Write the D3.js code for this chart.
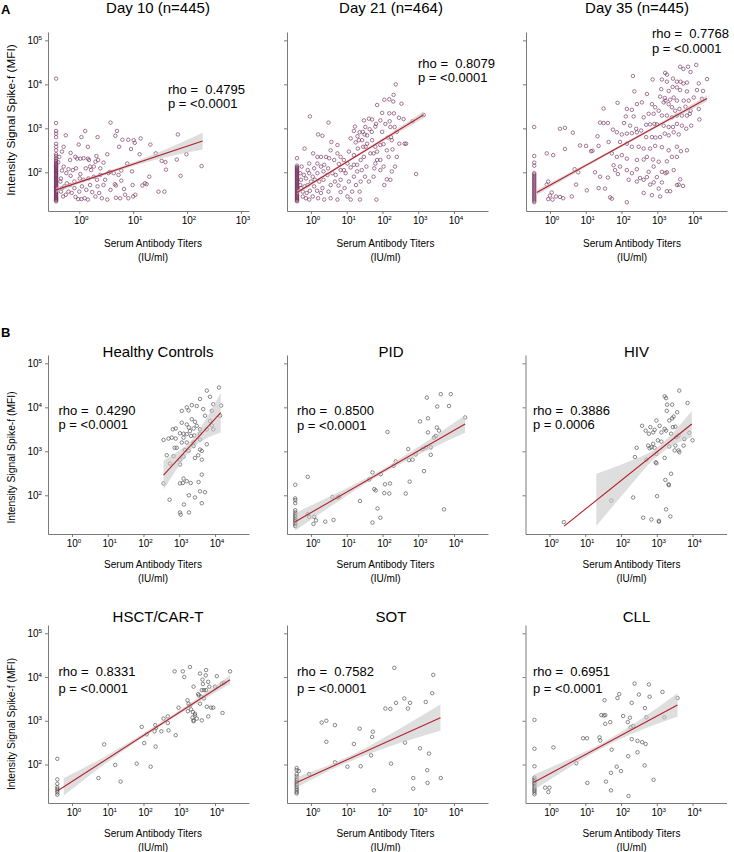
<!DOCTYPE html>
<html><head><meta charset="utf-8">
<script src="https://cdn.jsdelivr.net/npm/d3@7"></script>
<style>
body{margin:0;background:#fff}
svg{display:block}
text{font-family:"Liberation Sans",Arial,Helvetica,sans-serif;fill:#000}
</style>
</head><body>
<svg id="chart" width="734" height="852"></svg>
<script>
// ---------- DATA (log10 units: titer IU/ml, MFI) ----------
const panelTitles = ["Day 10 (n=445)","Day 21 (n=464)","Day 35 (n=445)","Healthy Controls","PID","HIV","HSCT/CAR-T","SOT","CLL"];
const rhoValues = ["0.4795","0.8079","0.7768","0.4290","0.8500","0.3886","0.8331","0.7582","0.6951"];
const pValues = ["<0.0001","<0.0001","<0.0001","<0.0001","<0.0001","0.0006","<0.0001","<0.0001","<0.0001"];
const xTickExpA1 = [0,1,2,3];
const xTickExp = [0,1,2,3,4];
const yTickExp = [2,3,4,5];

// lower-limit titer columns
const lowerLimitTiter = [-0.43,-0.39,-0.44,null,-0.44,null,-0.41,-0.40,-0.42];
const day10LowerMFI = [4.13,3.12,2.94,2.88,2.80,2.65,2.58,2.50,2.41,2.37,2.32,2.28,2.25,2.22,2.19,2.17,2.15,2.13,2.11,2.09,2.07,2.05,2.03,2.02,2.00,1.98,1.96,1.94,1.92,1.90,1.88,1.86,1.85,1.83,1.81,1.79,1.77,1.75,1.73,1.71,1.69,1.68,1.66,1.64,1.62,1.60,1.58,1.56,1.55,1.53,1.51,1.49,1.47,1.45,1.43,1.41,1.40,1.38,1.36,1.34];
const day21LowerMFI = [2.32,2.15,2.12,2.10,2.08,2.06,2.04,2.02,2.00,1.98,1.96,1.94,1.92,1.90,1.88,1.86,1.84,1.82,1.80,1.78,1.76,1.74,1.72,1.70,1.68,1.66,1.64,1.62,1.60,1.58,1.56,1.54,1.52,1.50,1.48,1.46,1.44,1.42,1.40,1.38,1.36,1.34];
const day35LowerMFI = [3.03,2.37,2.22,2.15,1.98,1.95,1.92,1.89,1.86,1.83,1.80,1.77,1.74,1.71,1.68,1.65,1.62,1.59,1.56,1.53,1.50,1.47,1.44,1.41,1.38,1.35,1.32];
const pidLowerMFI = [2.24,1.93,1.89,1.82,1.66,1.61,1.57,1.53,1.49,1.45,1.42,1.38,1.34,1.30];
const hsctLowerMFI = [2.13,1.66,1.56,1.48,1.44,1.40,1.36,1.31];
const sotLowerMFI = [1.92,1.87,1.78,1.73,1.68,1.64,1.60,1.56,1.53,1.49,1.45,1.41,1.37,1.34];
const cllLowerMFI = [3.02,2.36,1.96,1.70,1.66,1.62,1.58,1.55,1.51,1.47,1.43,1.40,1.36,1.32];

const day10Points = [[0.58,3.13],[0.70,2.94],[0.11,2.94],[-0.25,2.84],[0.04,2.80],[0.34,2.80],[1.14,2.77],[0.91,2.74],[1.01,2.73],[1.03,2.67],[1.83,2.86],[0.67,2.83],[0.80,2.74],[-0.01,2.63],[0.16,2.58],[1.32,2.63],[0.74,2.58],[0.96,2.53],[-0.16,2.44],[0.52,2.41],[0.32,2.37],[1.12,2.41],[0.08,2.32],[0.02,2.31],[-0.04,2.31],[0.16,2.31],[0.18,2.28],[0.30,2.24],[0.35,2.28],[0.45,2.22],[1.42,2.43],[1.60,2.23],[1.61,2.06],[1.99,2.41],[0.89,2.20],[2.27,2.14],[-0.29,2.13],[-0.20,2.07],[-0.12,2.05],[-0.06,2.09],[0.12,2.09],[0.22,2.05],[0.27,2.13],[0.57,2.01],[0.78,2.04],[0.98,2.02],[1.30,1.90],[1.25,1.73],[1.17,1.70],[0.99,1.71],[0.83,1.62],[0.66,1.73],[0.68,1.70],[0.54,1.98],[0.39,1.94],[0.27,1.90],[0.17,1.86],[0.08,1.83],[0.01,1.86],[-0.09,1.79],[-0.17,1.71],[-0.23,1.75],[-0.28,1.68],[-0.32,1.64],[-0.34,1.56],[-0.30,1.45],[-0.25,1.49],[-0.20,1.56],[-0.14,1.53],[-0.07,1.44],[-0.02,1.39],[0.04,1.39],[0.10,1.41],[0.16,1.38],[0.24,1.55],[0.30,1.45],[0.37,1.53],[0.42,1.41],[0.52,1.38],[0.68,1.42],[0.76,1.41],[0.91,1.41],[1.00,1.45],[1.22,1.75],[1.47,1.56],[1.58,1.56],[1.88,1.92],[1.81,2.29],[1.53,2.26],[0.45,1.71],[0.58,1.60],[0.34,1.68],[0.05,1.68],[0.20,1.71],[0.13,1.60],[0.00,1.56],[-0.16,1.92],[-0.24,1.98],[-0.34,1.86],[-0.32,2.04],[-0.35,1.79],[0.02,1.96],[-0.09,1.64],[0.33,1.83],[0.48,1.83],[0.78,1.81],[1.04,1.49],[0.85,1.49],[0.64,1.98],[0.73,1.94],[0.20,2.13],[0.39,2.09],[-0.17,2.28],[-0.07,2.35],[-0.39,2.23],[-0.37,2.35],[-0.32,2.47],[-0.29,2.58]];

const day21Points = [[2.37,4.00],[2.31,3.76],[2.05,3.65],[2.19,3.66],[2.30,3.61],[2.53,3.56],[1.85,3.53],[1.99,3.35],[2.19,3.34],[2.32,3.34],[2.46,3.24],[2.59,3.21],[2.84,3.16],[3.15,3.30],[-0.03,3.27],[0.49,3.13],[0.20,2.86],[0.32,2.83],[-0.18,2.54],[0.06,2.43],[0.74,2.62],[0.57,2.69],[1.11,2.77],[1.23,3.04],[1.48,3.18],[1.62,3.22],[1.71,3.20],[1.82,3.10],[1.52,3.03],[1.64,2.98],[1.20,2.94],[1.36,2.91],[1.50,2.86],[1.30,2.82],[1.25,2.68],[1.34,2.73],[1.46,2.58],[1.57,2.65],[1.71,2.73],[1.80,2.58],[1.85,2.47],[1.94,2.62],[2.03,2.64],[2.15,2.79],[2.26,2.73],[2.22,3.03],[1.99,2.92],[2.20,3.16],[2.34,3.03],[2.40,2.92],[2.12,2.50],[2.28,2.52],[2.17,2.35],[1.94,2.28],[1.80,2.20],[1.77,2.09],[1.66,2.43],[1.48,2.35],[1.39,2.28],[1.29,2.17],[1.11,2.11],[1.02,2.20],[0.92,2.28],[0.78,2.19],[0.65,2.28],[0.51,2.32],[0.42,2.35],[0.37,2.17],[0.28,2.13],[0.18,2.20],[0.09,2.09],[-0.05,1.98],[-0.05,2.20],[0.05,1.90],[0.00,1.79],[-0.09,1.71],[-0.18,1.68],[-0.28,1.64],[-0.23,1.56],[-0.12,1.53],[-0.03,1.58],[0.09,1.68],[0.23,1.79],[0.35,1.83],[0.46,1.94],[0.60,1.98],[0.67,1.79],[0.77,1.70],[0.83,1.83],[0.97,1.98],[1.06,1.79],[1.20,1.90],[1.26,1.71],[1.36,1.56],[1.15,1.56],[1.02,1.45],[0.74,1.38],[0.55,1.41],[0.37,1.38],[0.20,1.41],[0.05,1.45],[0.49,1.56],[0.32,1.64],[0.28,1.53],[0.17,1.58],[0.83,1.55],[0.55,1.71],[0.94,1.64],[1.11,1.38],[1.37,1.38],[1.83,1.38],[1.62,1.79],[1.75,1.90],[1.94,2.05],[2.03,2.13],[2.12,1.84],[2.22,1.83],[2.05,1.71],[2.26,2.02],[2.35,2.13],[2.40,2.35],[2.47,2.65],[2.62,2.65],[2.66,2.65],[2.24,2.80],[2.08,3.10],[1.94,3.18],[1.80,3.04],[1.70,2.92],[1.57,2.84],[1.43,2.73],[1.31,2.54],[1.20,2.39],[1.06,2.47],[0.83,2.35],[0.74,2.43],[0.55,2.50],[0.28,2.35],[0.18,2.35],[2.94,1.96],[1.45,2.92],[1.53,2.58],[1.75,2.43],[1.85,2.28],[1.55,2.13],[1.29,2.02],[1.42,2.05],[1.51,1.90],[1.39,1.79],[1.20,2.17],[0.92,2.05],[0.83,2.05],[0.69,1.94],[0.48,2.09],[0.35,2.02],[0.18,1.98],[0.11,1.83],[-0.14,1.86],[-0.20,1.94],[-0.09,2.05],[-0.28,1.83],[-0.30,1.71],[-0.23,1.45],[-0.14,1.41],[-0.05,1.38],[-0.30,1.98],[-0.26,2.13]];

const day35Points = [[4.09,4.44],[3.86,4.40],[3.64,4.40],[3.73,4.35],[3.93,4.28],[3.22,4.26],[3.27,4.22],[2.32,4.19],[2.87,4.11],[3.13,4.11],[3.44,4.13],[3.27,4.06],[3.55,4.06],[3.65,4.06],[3.73,4.02],[3.83,4.04],[4.16,4.02],[4.39,4.12],[2.36,3.84],[3.11,3.89],[3.32,3.85],[3.43,3.94],[3.55,3.93],[3.64,3.87],[3.83,3.84],[4.11,3.87],[4.28,3.85],[2.71,3.78],[3.08,3.72],[3.21,3.69],[3.23,3.63],[3.36,3.65],[3.46,3.70],[3.55,3.63],[3.74,3.63],[3.88,3.63],[4.02,3.70],[4.25,3.67],[1.89,3.58],[2.57,3.59],[2.43,3.55],[2.85,3.55],[2.94,3.48],[3.04,3.40],[3.18,3.59],[3.32,3.55],[3.41,3.48],[3.50,3.40],[3.62,3.44],[3.79,3.49],[3.93,3.40],[4.16,3.44],[1.50,3.45],[2.15,3.44],[2.29,3.42],[2.12,3.27],[2.34,3.27],[2.62,3.25],[2.76,3.33],[2.90,3.33],[3.13,3.29],[3.27,3.29],[3.41,3.25],[3.55,3.29],[3.69,3.29],[3.83,3.29],[3.91,3.33],[1.40,3.13],[1.50,3.12],[1.62,3.12],[2.07,3.12],[2.24,3.06],[2.41,2.99],[2.69,3.08],[2.80,3.09],[2.92,3.10],[2.99,3.09],[3.18,3.06],[3.32,3.03],[3.44,3.03],[3.55,3.10],[3.69,3.06],[3.81,2.99],[3.95,3.06],[4.18,3.20],[0.28,2.99],[0.42,3.01],[0.64,2.90],[1.33,2.82],[1.76,2.97],[1.87,2.91],[2.01,2.86],[2.15,2.88],[2.29,2.89],[2.43,2.91],[2.55,2.95],[2.69,2.80],[2.85,2.80],[2.95,2.79],[3.08,2.80],[3.21,2.88],[3.32,2.84],[3.46,2.91],[3.60,2.86],[0.84,2.61],[1.01,2.60],[1.15,2.48],[1.36,2.60],[1.64,2.69],[1.96,2.69],[2.15,2.65],[2.29,2.58],[2.48,2.58],[2.62,2.54],[2.80,2.54],[2.94,2.60],[3.13,2.57],[3.32,2.50],[3.55,2.58],[3.83,2.50],[0.42,2.53],[-0.09,2.43],[0.09,2.39],[1.19,2.49],[1.73,2.43],[1.87,2.35],[2.01,2.39],[2.15,2.31],[2.43,2.28],[2.62,2.29],[2.71,2.35],[2.88,2.29],[3.04,2.24],[3.27,2.25],[3.41,2.35],[3.55,2.35],[3.66,2.48],[1.78,2.16],[1.96,2.13],[2.15,2.05],[2.29,1.98],[2.43,2.07],[2.76,2.01],[2.90,2.13],[3.13,2.01],[3.27,2.00],[3.46,2.05],[0.69,2.07],[0.79,2.00],[1.26,2.00],[1.82,2.05],[1.40,1.90],[1.62,1.88],[1.90,1.96],[2.20,1.83],[2.43,1.79],[2.62,1.83],[2.99,1.89],[3.23,1.98],[3.64,1.84],[3.55,1.71],[-0.05,1.79],[-0.09,1.72],[0.05,1.54],[0.00,1.47],[-0.05,1.39],[0.07,1.38],[0.17,1.45],[0.28,1.44],[0.37,1.41],[0.61,1.45],[0.73,1.72],[1.03,1.59],[1.36,1.64],[1.54,1.63],[1.68,1.43],[1.73,1.40],[2.15,1.32],[2.62,1.53],[2.80,1.72],[2.85,1.48],[3.04,1.63],[3.08,1.45],[3.27,1.57],[3.36,1.57],[3.60,1.72],[3.72,1.69],[3.13,1.77],[2.90,1.77],[2.52,1.87],[2.71,1.89]];

const healthyPoints = [[4.11,4.45],[3.77,4.38],[3.86,4.24],[3.58,4.19],[3.35,4.05],[3.49,4.03],[3.95,4.07],[3.21,4.00],[3.26,3.93],[3.07,3.92],[3.67,3.96],[4.17,4.04],[3.91,3.92],[3.72,3.81],[3.86,3.69],[3.35,3.73],[3.44,3.67],[3.21,3.61],[3.07,3.65],[3.49,3.58],[3.58,3.50],[3.77,3.50],[3.91,3.59],[3.27,3.54],[3.40,3.52],[3.30,3.46],[3.21,3.39],[3.12,3.40],[3.02,3.41],[2.90,3.52],[2.82,3.50],[3.58,3.40],[3.95,3.50],[4.14,3.81],[3.33,3.35],[3.42,3.36],[3.12,3.31],[2.90,3.29],[2.79,3.31],[2.70,3.29],[2.56,3.26],[3.07,3.20],[3.21,3.20],[3.40,3.20],[3.58,3.27],[3.77,3.16],[3.16,3.03],[3.40,3.12],[2.93,3.08],[2.87,3.08],[3.58,3.04],[2.84,2.89],[3.02,2.81],[3.12,2.88],[3.26,3.01],[3.53,2.91],[3.63,3.01],[2.56,2.27],[2.65,2.91],[2.74,2.72],[3.02,2.70],[3.10,2.28],[3.21,2.32],[3.32,2.28],[3.12,2.38],[3.02,2.27],[3.27,2.00],[3.44,1.95],[3.54,2.30],[3.58,2.09],[3.72,2.07],[3.63,1.82],[2.73,1.90],[3.13,1.79],[3.02,1.61],[3.04,1.56],[3.27,1.61],[3.63,2.47],[3.63,2.81],[3.44,2.85]];

const pidPoints = [[3.63,4.30],[3.91,4.30],[3.24,4.22],[3.86,4.03],[3.53,4.02],[4.31,3.77],[3.05,3.68],[3.27,3.75],[2.14,3.44],[3.52,3.54],[3.58,3.47],[3.27,3.43],[3.44,3.31],[3.49,3.35],[2.72,3.05],[3.12,3.05],[3.21,3.09],[3.35,3.09],[3.35,2.92],[2.93,2.93],[2.74,2.80],[2.84,2.81],[2.37,2.77],[2.31,2.67],[3.16,2.55],[1.72,2.52],[1.95,2.48],[1.63,2.36],[-0.09,2.42],[2.76,2.31],[2.07,2.25],[2.21,2.27],[1.77,2.14],[1.81,2.11],[2.05,2.05],[2.19,2.04],[2.65,2.04],[0.60,1.96],[0.79,1.97],[0.75,1.95],[1.37,1.87],[1.86,1.70],[-0.09,1.57],[-0.05,1.51],[0.09,1.51],[0.14,1.43],[0.07,1.35],[0.40,1.40],[0.63,1.44],[1.72,1.38],[1.94,1.49],[3.72,1.68]];

const hivPoints = [[3.63,4.38],[3.22,4.25],[3.26,4.21],[3.86,4.10],[3.29,4.06],[3.43,4.06],[3.28,3.92],[3.57,3.89],[3.47,3.79],[3.43,3.75],[3.35,3.70],[2.59,3.58],[2.99,3.70],[2.82,3.55],[2.94,3.49],[3.08,3.58],[3.22,3.51],[3.45,3.55],[3.52,3.56],[2.69,3.47],[2.78,3.40],[2.90,3.43],[3.13,3.43],[3.26,3.47],[3.40,3.40],[3.54,3.32],[3.91,3.42],[3.77,3.28],[4.00,3.25],[3.61,3.36],[3.03,3.25],[3.13,3.22],[2.90,3.17],[2.76,3.13],[2.80,3.07],[2.85,3.09],[2.44,3.08],[2.94,3.08],[3.35,3.11],[3.52,3.13],[3.61,3.02],[3.75,3.13],[3.63,2.98],[3.50,3.02],[2.99,2.94],[2.39,2.87],[2.71,2.81],[2.97,2.75],[2.99,2.73],[3.22,2.85],[3.40,2.49],[3.24,2.35],[3.33,2.25],[3.34,2.23],[3.01,1.98],[2.34,1.95],[1.73,1.88],[3.26,1.68],[2.62,1.49],[2.85,1.45],[3.06,1.42],[3.06,1.40],[3.38,1.52],[0.40,1.39]];

const hsctPoints = [[3.30,4.23],[2.87,4.13],[3.10,4.13],[3.14,4.00],[3.58,4.08],[3.75,4.16],[3.74,4.04],[4.42,4.13],[4.05,4.02],[3.81,3.89],[3.40,3.78],[3.65,3.94],[3.66,3.84],[3.63,3.70],[3.61,3.55],[3.69,3.70],[3.75,3.70],[3.84,3.78],[4.00,3.78],[4.19,3.85],[4.25,3.87],[3.53,3.61],[3.58,3.39],[3.55,3.58],[3.69,3.51],[3.23,3.47],[3.26,3.39],[3.30,3.35],[3.24,3.22],[3.44,3.16],[3.38,3.20],[3.33,3.26],[2.98,3.30],[2.68,3.10],[3.44,3.12],[3.77,3.32],[3.81,3.10],[3.89,3.30],[3.95,3.30],[4.21,3.18],[3.63,3.01],[3.40,3.01],[3.49,3.05],[3.37,3.07],[3.40,2.99],[2.56,3.05],[2.68,2.95],[2.33,2.90],[2.31,2.76],[2.09,2.69],[2.50,2.76],[2.70,2.78],[1.95,2.86],[2.35,2.84],[2.02,2.49],[2.34,2.41],[2.90,2.67],[0.90,2.46],[1.21,1.99],[1.81,2.02],[2.20,1.95],[0.74,1.69],[1.36,1.61]];

const sotPoints = [[2.33,4.21],[3.42,4.05],[3.39,3.63],[3.21,3.43],[2.61,3.51],[2.77,3.41],[2.38,3.41],[2.08,3.28],[2.22,3.27],[2.71,3.28],[0.43,3.00],[0.30,2.96],[0.67,2.90],[1.36,2.82],[1.73,2.75],[1.71,2.63],[0.43,2.52],[1.20,2.47],[2.63,2.50],[3.05,2.37],[3.30,2.25],[1.68,2.21],[0.67,2.05],[1.02,1.95],[1.39,1.96],[2.24,2.02],[3.25,1.87],[-0.05,1.78],[2.86,1.69],[3.26,1.58],[3.63,1.69],[2.86,1.45],[1.76,1.41],[-0.34,1.85]];

const cllPoints = [[2.38,3.85],[2.78,3.83],[3.16,3.66],[1.95,3.61],[2.50,3.60],[2.80,3.55],[3.58,3.52],[1.54,3.47],[1.90,3.52],[2.30,3.41],[2.67,3.29],[1.45,3.13],[1.52,3.12],[1.56,3.13],[2.06,3.11],[2.25,3.07],[2.71,3.08],[3.21,3.08],[1.70,2.97],[1.56,2.93],[2.19,2.97],[2.27,2.85],[2.34,2.88],[0.94,2.60],[1.05,2.60],[1.40,2.62],[1.42,2.55],[2.30,2.58],[2.46,2.54],[2.59,2.51],[2.69,2.47],[0.11,2.39],[1.74,2.34],[2.20,2.19],[2.46,2.28],[0.75,2.03],[1.88,1.95],[2.00,1.85],[2.66,1.98],[1.72,1.81],[2.91,1.65],[1.06,1.58],[1.58,1.61],[1.72,1.41],[2.21,1.28],[-0.12,1.47],[-0.03,1.37],[0.00,1.47]];

// fitted regression lines [x0, y0, x1, y1] and confidence bands [x, lower, upper]
const fitLines = [
  [-0.43,1.60,2.29,2.71],[-0.39,1.54,3.15,3.31],[-0.37,1.54,4.39,3.68],
  [2.56,2.46,4.16,3.88],[-0.44,1.40,4.31,3.62],[0.41,1.30,3.98,3.62],
  [-0.40,1.40,4.42,3.94],[-0.40,1.59,3.62,3.07],[-0.42,1.60,3.58,3.36]
];
const fitBands = [
  [[-0.43,1.54,1.66],[0.3,1.87,1.93],[1.0,2.14,2.23],[1.6,2.34,2.52],[2.29,2.52,2.90]],
  [[-0.39,1.49,1.59],[1.0,2.21,2.26],[2.0,2.695,2.775],[3.15,3.23,3.39]],
  [[-0.37,1.48,1.60],[1.5,2.35,2.41],[3.0,3.025,3.085],[4.39,3.61,3.75]],
  [[2.56,2.13,2.79],[3.0,2.68,3.02],[3.35,3.06,3.26],[3.7,3.27,3.67],[4.16,3.43,4.33]],
  [[-0.44,1.20,1.60],[0.5,1.72,1.96],[1.8,2.40,2.50],[3.0,2.92,3.10],[4.31,3.42,3.82]],
  [[1.31,1.30,2.49],[2.2,2.16,2.76],[3.0,2.88,3.08],[3.5,3.16,3.46],[3.98,3.32,3.92]],
  [[-0.23,1.29,1.69],[1.0,2.06,2.22],[2.5,2.89,2.97],[3.5,3.40,3.51],[4.42,3.84,4.04]],
  [[-0.40,1.47,1.71],[0.8,1.97,2.09],[1.8,2.30,2.50],[2.8,2.57,2.97],[3.62,2.77,3.37]],
  [[-0.42,1.43,1.77],[0.5,1.905,2.105],[1.5,2.385,2.505],[2.5,2.765,3.005],[3.58,3.09,3.63]]
];

const pointSets = [day10Points,day21Points,day35Points,healthyPoints,pidPoints,hivPoints,hsctPoints,sotPoints,cllPoints];
const lowerSets = [day10LowerMFI,day21LowerMFI,day35LowerMFI,[],pidLowerMFI,[],hsctLowerMFI,sotLowerMFI,cllLowerMFI];

// ---------- LAYOUT ----------
const colLeft = [48,287,526];
const rowTop = [32,355,625];
const rowH = [179,179,178];
const plotW = 201;
const titleDX = [110,104,111];
const titleY = [13,357,621.5];
const ann = [ // [x offset from left, baseline rho, baseline p]
  [120,93.5,108],[131,67.5,82],[126,37.5,52.5],
  [10.5,414.5,429],[10,414.5,429.5],[7.5,414.5,429],
  [10.5,676,692.5],[10,676,692.5],[7.5,676,692.5]
];
const xTitleDX = [105,98.5,106];
const xTitleY = [247,568,837];
const yTitleCenter = [120,457.5,724];

const svg = d3.select("#chart");
const AXIS = "#6b6b6b";

function sup(sel, exp) {
  sel.append("tspan").text("10");
  sel.append("tspan").attr("font-size",6.2).attr("dy",-4).text(exp);
}

for (let i = 0; i < 9; i++) {
  const r = Math.floor(i/3), c = i % 3;
  const left = colLeft[c] - (r>0 && c===2 ? 0.5 : 0);
  const top = rowTop[r], h = rowH[r];
  const xd = i === 0 ? [-0.58,3.15] : [-0.67,4.95];
  const yd = [1.12,5.19];
  const x = d3.scaleLog().domain([10**xd[0],10**xd[1]]).range([left,left+plotW]);
  const y = d3.scaleLog().domain([10**yd[0],10**yd[1]]).range([top+h,top]);
  const g = svg.append("g");
  const color = r === 0 ? "#74305c" : "#4a4a4a";

  // axes
  const xt = (i===0 ? xTickExpA1 : xTickExp);
  const xa = g.append("g").attr("transform",`translate(0,${top+h})`)
    .call(d3.axisBottom(x).tickValues(xt.map(k=>10**k)).tickSize(3).tickSizeOuter(0).tickFormat(""));
  const ya = g.append("g").attr("transform",`translate(${left},0)`)
    .call(d3.axisLeft(y).tickValues(yTickExp.map(k=>10**k)).tickSize(3).tickSizeOuter(0).tickFormat(""));
  [xa,ya].forEach(a=>{a.selectAll("path,line").attr("stroke",AXIS).attr("stroke-width",0.9);});

  xt.forEach(k=>{
    const t = g.append("text").attr("x",x(10**k)+2).attr("y",top+h+13).attr("text-anchor","middle").attr("font-size",10);
    sup(t,k);
  });
  if (c === 0) {
    yTickExp.forEach(k=>{
      const t = g.append("text").attr("x",left-6).attr("y",y(10**k)+3.5).attr("text-anchor","end").attr("font-size",10);
      sup(t,k);
    });
  }

  // points
  const pts = pointSets[i].slice();
  lowerSets[i].forEach(v=>pts.push([lowerLimitTiter[i],v]));
  g.append("g").selectAll("circle").data(pts).join("circle")
    .attr("cx",d=>x(10**d[0])).attr("cy",d=>y(10**d[1])).attr("r",1.75)
    .attr("fill","none").attr("stroke",color).attr("stroke-width",0.65);

  // band
  const area = d3.area().x(d=>x(10**d[0])).y0(d=>y(10**d[1])).y1(d=>y(10**d[2])).curve(d3.curveMonotoneX);
  g.append("path").attr("d",area(fitBands[i])).attr("fill","#c8c8c8").attr("opacity",0.6);
  const fl = fitLines[i];
  g.append("path").attr("d",d3.line().x(d=>x(10**d[0])).y(d=>y(10**d[1]))([[fl[0],fl[1]],[fl[2],fl[3]]]))
    .attr("stroke","#b5202a").attr("stroke-width",1.1).attr("fill","none");

  // title
  g.append("text").attr("x",left+titleDX[c]).attr("y",titleY[r]).attr("text-anchor","middle")
    .attr("font-size",15).text(panelTitles[i]);
  // annotation
  g.append("text").attr("x",left+ann[i][0]).attr("y",ann[i][1]).attr("font-size",13)
    .style("white-space","pre").text("rho =  " + rhoValues[i]);
  g.append("text").attr("x",left+ann[i][0]).attr("y",ann[i][2]).attr("font-size",13)
    .style("white-space","pre").text("p = " + pValues[i]);
  // axis titles
  g.append("text").attr("x",left+xTitleDX[c]).attr("y",xTitleY[r]).attr("text-anchor","middle")
    .attr("font-size",10).text("Serum Antibody Titers");
  g.append("text").attr("x",left+xTitleDX[c]).attr("y",xTitleY[r]+14).attr("text-anchor","middle")
    .attr("font-size",10).text("(IU/ml)");
  if (c === 0) {
    const fs = r === 0 ? 11.8 : 10.3;
    g.append("text").attr("transform",`translate(14.5,${yTitleCenter[r]}) rotate(-90)`)
      .attr("text-anchor","middle").attr("font-size",fs).text("Intensity Signal Spike-f (MFI)");
  }
}

svg.append("text").attr("x",1).attr("y",13.5).attr("font-size",13).attr("font-weight","bold").text("A");
svg.append("text").attr("x",1).attr("y",336.5).attr("font-size",13).attr("font-weight","bold").text("B");
</script>
</body></html>
